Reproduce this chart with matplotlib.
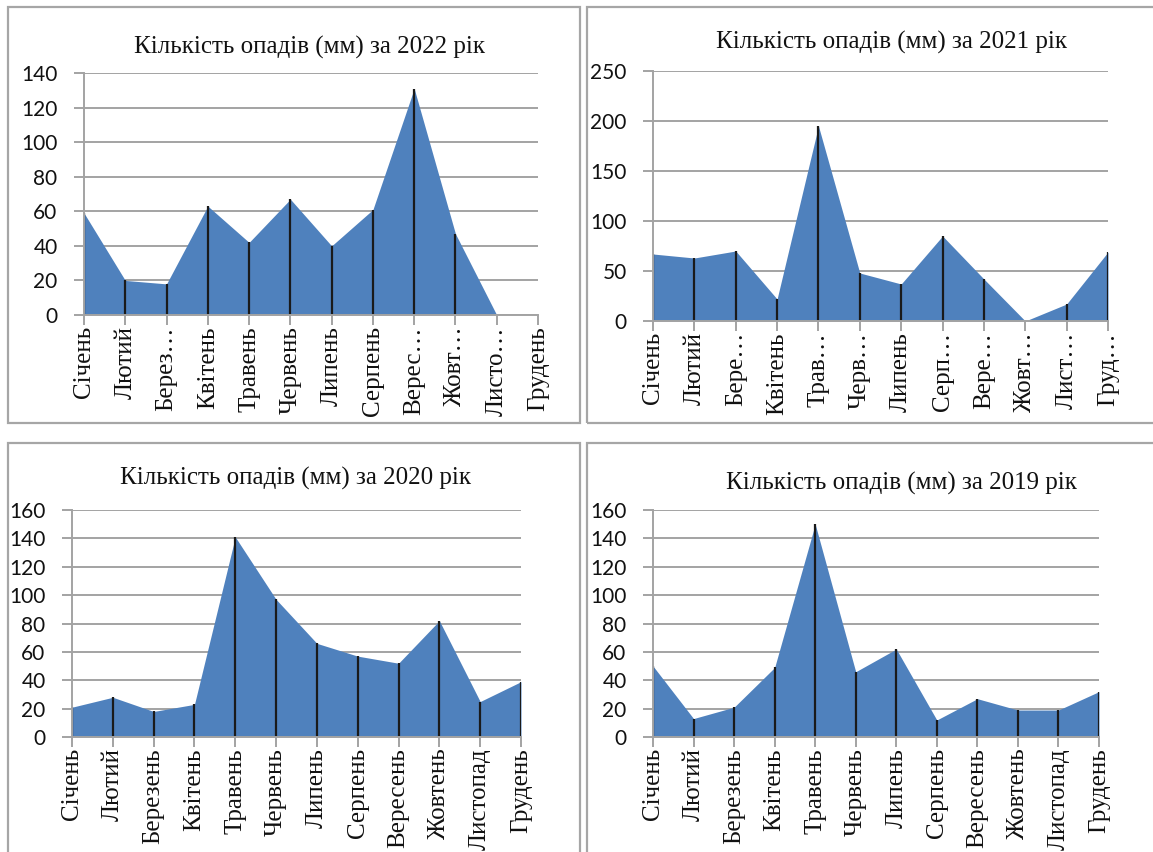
import numpy as np
import matplotlib
matplotlib.use("Agg")
import matplotlib.pyplot as plt
from matplotlib.patches import Rectangle

# Monthly precipitation (mm)
months_full = ["Січень", "Лютий", "Березень", "Квітень", "Травень", "Червень",
               "Липень", "Серпень", "Вересень", "Жовтень", "Листопад", "Грудень"]

labels_2022 = ["Січень", "Лютий", "Берез…", "Квітень", "Травень", "Червень",
               "Липень", "Серпень", "Верес…", "Жовт…", "Листо…", "Грудень"]
labels_2021 = ["Січень", "Лютий", "Бере…", "Квітень", "Трав…", "Черв…",
               "Липень", "Серп…", "Вере…", "Жовт…", "Лист…", "Груд…"]
labels_2020 = months_full
labels_2019 = months_full

rain_2022 = [59, 20, 18, 63, 42, 67, 40, 61, 131, 47, 0, np.nan]
rain_2021 = [67, 63, 70, 22, 195, 48, 37, 85, 42, 0, 17, 69]
rain_2020 = [21, 28, 18, 23, 141, 97, 66, 57, 52, 82, 25, 39]
rain_2019 = [50, 13, 21, 49, 150, 46, 62, 12, 27, 19, 19, 32]

years = [2022, 2021, 2020, 2019]
yticks_2022 = [0, 20, 40, 60, 80, 100, 120, 140]
yticks_2021 = [0, 50, 100, 150, 200, 250]
yticks_2020 = [0, 20, 40, 60, 80, 100, 120, 140, 160]
yticks_2019 = [0, 20, 40, 60, 80, 100, 120, 140, 160]

W, H = 1153, 852
fig = plt.figure(figsize=(W / 100, H / 100), dpi=100)
fig.patch.set_facecolor("white")

FILL = "#4F81BD"
GRID = "#A3A3A3"
BORDER = "#A6A6A6"
SERIF = "Liberation Serif"
SANS = "Lato"


def px_axes(x0, x1, y_top, y_bot):
    return fig.add_axes([x0 / W, 1 - y_bot / H, (x1 - x0) / W, (y_bot - y_top) / H])


def panel_frame(x0, y0, x1, y1):
    fig.patches.append(Rectangle((x0 / W, 1 - y1 / H), (x1 - x0) / W, (y1 - y0) / H,
                                 transform=fig.transFigure, fill=False,
                                 edgecolor=BORDER, linewidth=1.6, zorder=0))


def draw(ax, values, labels, yticks):
    x = np.arange(len(values))
    v = np.asarray(values, dtype=float)
    ax.fill_between(x, 0, v, color=FILL, linewidth=0, zorder=2)
    ok = ~np.isnan(v)
    ax.vlines(x[ok], 0, v[ok], colors="#1a1a1a", linewidth=1.6, zorder=3)
    ax.set_xlim(0, len(values) - 1)
    ax.set_ylim(yticks[0], yticks[-1])
    ax.set_yticks(yticks)
    ax.set_xticks(x)
    ax.set_xticklabels(labels, rotation=90, fontfamily=SERIF, fontsize=18)
    for t in ax.get_yticklabels():
        t.set_fontfamily(SANS)
        t.set_fontsize(15)
    ax.yaxis.grid(True, color=GRID, linewidth=1.4, zorder=1)
    ax.set_axisbelow(True)
    for s in ("top", "right"):
        ax.spines[s].set_visible(False)
    for s in ("left", "bottom"):
        ax.spines[s].set_color(GRID)
        ax.spines[s].set_linewidth(1.4)
        ax.spines[s].set_zorder(4)
    ax.tick_params(axis="y", length=7, width=1.4, color=GRID, pad=12, labelcolor="#111111")
    ax.tick_params(axis="x", length=7, width=1.4, color=GRID, pad=1, labelcolor="#111111")
    ax.set_facecolor("none")


# panel frames
panel_frame(8, 7, 580, 423)
panel_frame(587, 7, 1165, 423)
panel_frame(8, 443, 580, 870)
panel_frame(587, 443, 1165, 870)

ax22 = px_axes(84, 538, 73, 315)
draw(ax22, rain_2022, labels_2022, yticks_2022)
ax21 = px_axes(653, 1108, 71, 321)
draw(ax21, rain_2021, labels_2021, yticks_2021)
ax20 = px_axes(72, 521, 510, 737)
draw(ax20, rain_2020, labels_2020, yticks_2020)
ax19 = px_axes(653, 1099, 510, 737)
draw(ax19, rain_2019, labels_2019, yticks_2019)

title_pos = {2022: (309, 47), 2021: (891, 42), 2020: (295, 478), 2019: (901, 483)}
for yr in years:
    cx, cy = title_pos[yr]
    fig.text(cx / W, 1 - cy / H, f"Кількість опадів (мм) за {yr} рік",
             ha="center", va="center", fontfamily=SERIF, fontsize=18, color="#111111")

fig.savefig("out.png", dpi=100, facecolor="white")
